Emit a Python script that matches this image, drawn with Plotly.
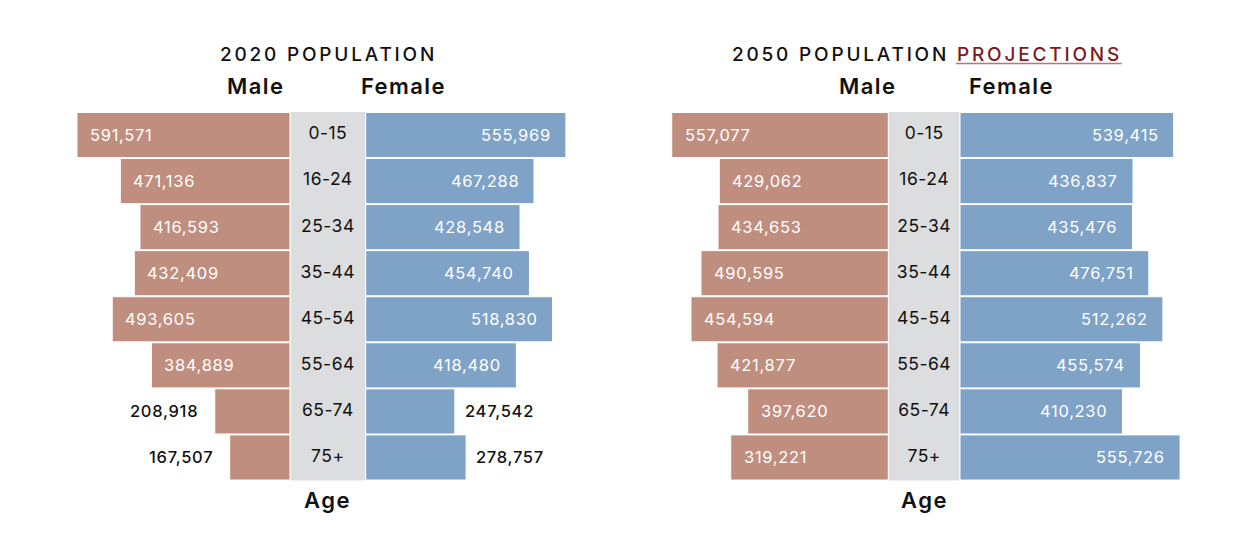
import plotly.graph_objects as go

# ---------------- data ----------------
ages = ["0-15", "16-24", "25-34", "35-44", "45-54", "55-64", "65-74", "75+"]

male_2020 = [591571, 471136, 416593, 432409, 493605, 384889, 208918, 167507]
female_2020 = [555969, 467288, 428548, 454740, 518830, 418480, 247542, 278757]

male_2050 = [557077, 429062, 434653, 490595, 454594, 421877, 397620, 319221]      # printed labels
male_2050_bar = [546900, 426700, 430000, 473000, 498200, 432500, 355000, 397900]  # bar lengths as drawn
female_2050 = [539415, 436837, 435476, 476751, 512262, 455574, 410230, 555726]

titles = ["2020 POPULATION", "2050 POPULATION"]
title_suffix = ["", "PROJECTIONS"]

# ---------------- style ----------------
W, H = 1257, 558
MALE_C = "#c08e7e"
FEMALE_C = "#7fa2c7"
BAND_C = "#dcdddf"
RED = "#7d1a20"
INK = "#111111"
FONT = "Inter"

panels = [
    dict(xa="x", male=male_2020, male_bar=male_2020, female=female_2020,
         center_px=327.85, ppp=2777.0, half_px=37.85, domain=[0.0, 0.5],
         male_hdr=255.2, female_hdr=403.3, title_x=328.5),
    dict(xa="x2", male=male_2050, male_bar=male_2050_bar, female=female_2050,
         center_px=924.15, ppp=2525.0, half_px=35.85, domain=[0.5, 1.0],
         male_hdr=867.0, female_hdr=1011.7, title_x=926.5),
]

OUTSIDE_LIMIT = 300000

fig = go.Figure()
annotations = []
shapes = []


def fmt(v):
    return f"<span style='letter-spacing:0.7px'>{v:,}</span>"


def spaced(t, px):
    return f"<span style='letter-spacing:{px}px'>{t}</span>"


for i, p in enumerate(panels):
    gap = p["half_px"] * p["ppp"]
    xa = p["xa"]
    ax_name = "xaxis" if xa == "x" else "xaxis2"

    fig.add_trace(go.Bar(
        orientation="h", y=ages, x=[-v for v in p["male_bar"]], base=-gap,
        marker=dict(color=MALE_C, line=dict(color="white", width=1)),
        xaxis=xa, yaxis="y", hoverinfo="skip", showlegend=False))
    fig.add_trace(go.Bar(
        orientation="h", y=ages, x=p["female"], base=gap,
        marker=dict(color=FEMALE_C, line=dict(color="white", width=1)),
        xaxis=xa, yaxis="y", hoverinfo="skip", showlegend=False))
    fig.add_trace(go.Scatter(
        x=[0] * len(ages), y=ages, mode="text",
        text=[spaced(a, 0.5) for a in ages],
        textfont=dict(family=FONT, size=17.5, color=INK),
        xaxis=xa, yaxis="y", hoverinfo="skip", showlegend=False))

    # center band
    shapes.append(dict(type="rect", xref=xa, yref="y domain", x0=-gap + 0.5 * p["ppp"],
                       x1=gap - 0.5 * p["ppp"], y0=0, y1=1, fillcolor=BAND_C,
                       line=dict(width=0), layer="below"))

    # value labels
    for age, lab, bar in zip(ages, p["male"], p["male_bar"]):
        inside = bar >= OUTSIDE_LIMIT
        annotations.append(dict(
            xref=xa, yref="y", x=-(gap + bar), y=age, text=fmt(lab), showarrow=False,
            xanchor="left" if inside else "right", xshift=11 if inside else -15,
            font=dict(family=FONT, size=16.5, color="white" if inside else INK,
                      weight=400 if inside else 500)))
    for age, lab in zip(ages, p["female"]):
        inside = lab >= OUTSIDE_LIMIT
        annotations.append(dict(
            xref=xa, yref="y", x=gap + lab, y=age, text=fmt(lab), showarrow=False,
            xanchor="right" if inside else "left", xshift=-13 if inside else 8,
            font=dict(family=FONT, size=16.5, color="white" if inside else INK,
                      weight=400 if inside else 500)))

    # headers
    for txt, px in (("Male", p["male_hdr"]), ("Female", p["female_hdr"])):
        annotations.append(dict(
            xref="paper", yref="paper", x=px / W, y=1 - 86 / H, text=spaced(txt, 1.4),
            showarrow=False, xanchor="center", yanchor="middle",
            font=dict(family=FONT, size=22, color=INK, weight=600)))
    # Age
    annotations.append(dict(
        xref=xa, yref="paper", x=0, y=1 - 500 / H, text=spaced("Age", 1.5), showarrow=False,
        xanchor="center", yanchor="middle",
        font=dict(family=FONT, size=22, color=INK, weight=600)))
    # title
    ttl = f"<span style='letter-spacing:2.8px'>{titles[i]}"
    if title_suffix[i]:
        ttl += f" <span style='color:{RED}'>{title_suffix[i]}</span>"
    ttl += "</span>"
    annotations.append(dict(
        xref="paper", yref="paper", x=p["title_x"] / W, y=1 - 54 / H, text=ttl,
        showarrow=False, xanchor="center", yanchor="middle",
        font=dict(family=FONT, size=19, color=INK, weight=500)))

    left_px = p["domain"][0] * W
    right_px = p["domain"][1] * W
    fig.layout[ax_name] = dict(
        domain=p["domain"], anchor="y", visible=False, fixedrange=True,
        range=[(left_px - p["center_px"]) * p["ppp"], (right_px - p["center_px"]) * p["ppp"]])

# underline for PROJECTIONS
shapes.append(dict(type="line", xref="paper", yref="paper", x0=956 / W, x1=1121.7 / W,
                   y0=1 - 63.5 / H, y1=1 - 63.5 / H, line=dict(color="#b8767c", width=1.5)))

fig.update_layout(
    width=W, height=H,
    margin=dict(l=0, r=0, t=0, b=0),
    paper_bgcolor="white", plot_bgcolor="white",
    barmode="overlay", bargap=0.02,
    yaxis=dict(domain=[1 - 480.5 / H, 1 - 112 / H], type="category", categoryorder="array",
               categoryarray=ages, range=[len(ages) - 0.5, -0.5], visible=False, fixedrange=True),
    annotations=annotations, shapes=shapes,
    showlegend=False, hovermode=False,
)

fig.write_html("out.html", config={"displayModeBar": False},
               post_script="document.body.style.margin='0';document.body.style.overflow='hidden';")
